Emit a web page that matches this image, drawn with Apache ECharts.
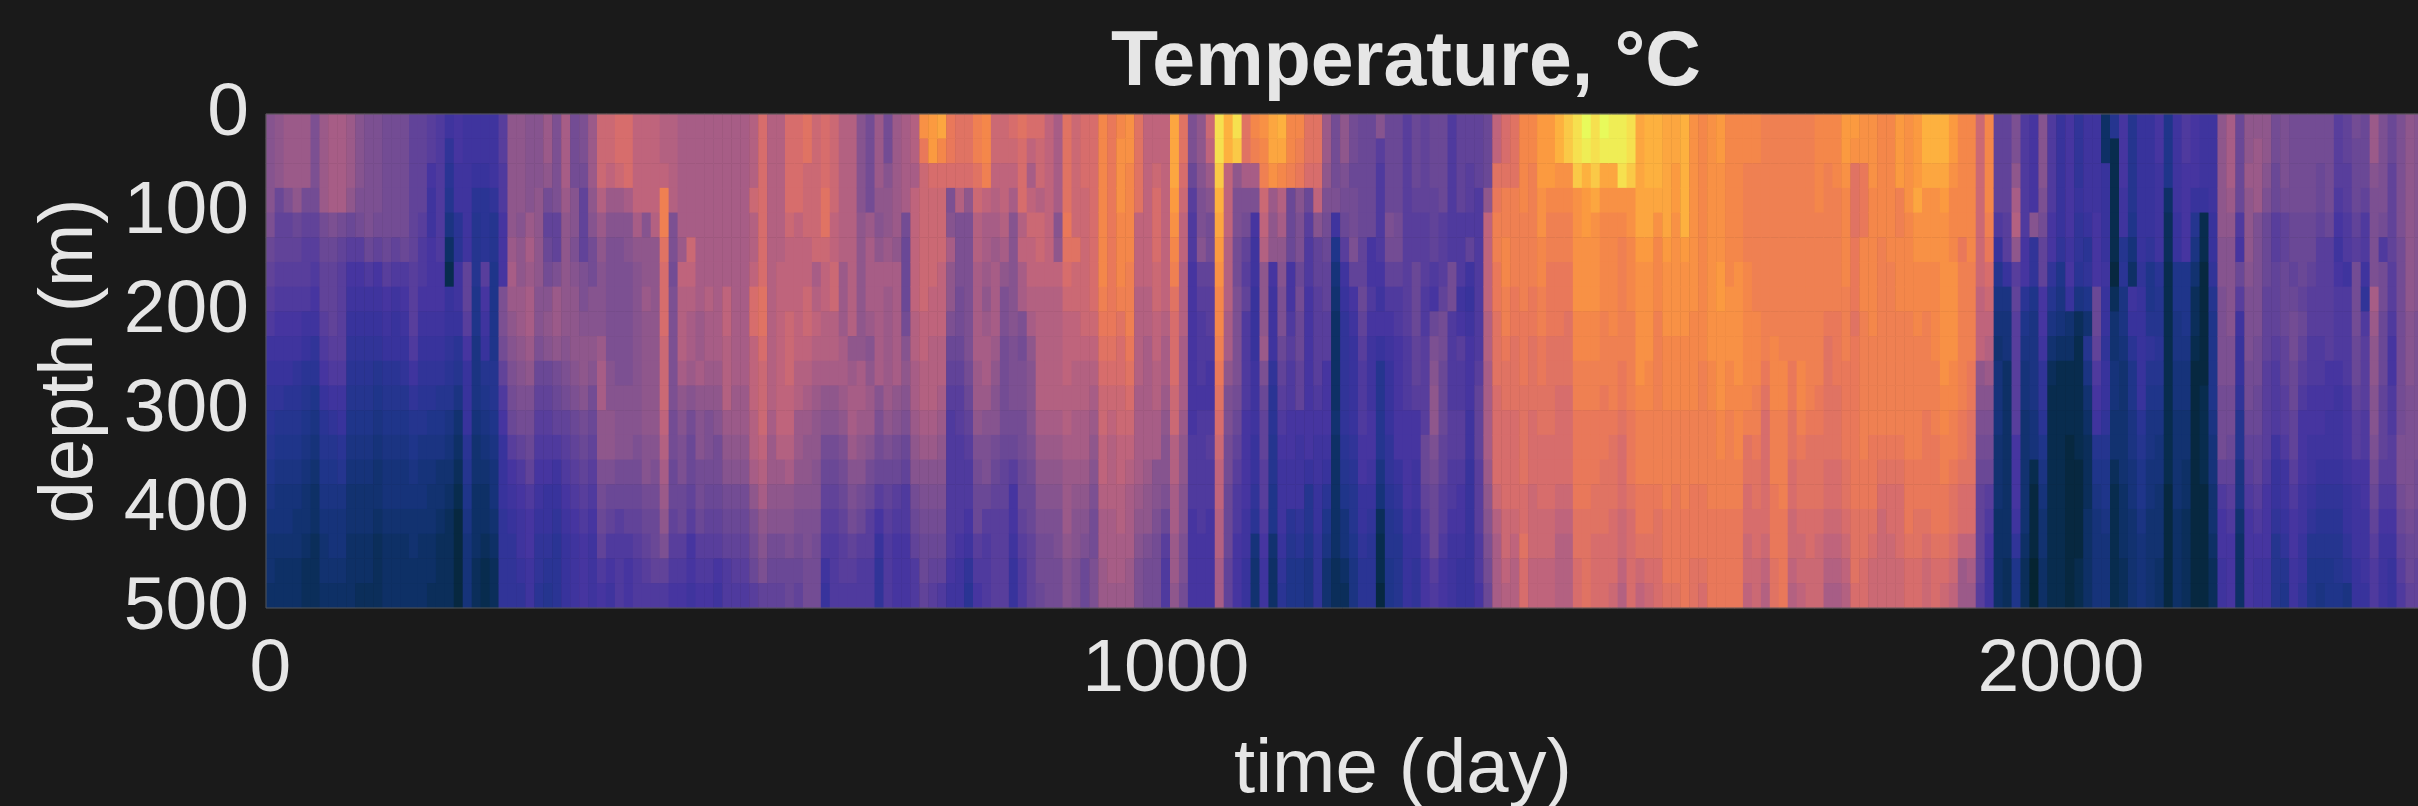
<!DOCTYPE html>
<html>
<head>
<meta charset="utf-8">
<title>Temperature</title>
<script src="https://cdn.jsdelivr.net/npm/echarts@6/dist/echarts.min.js"></script>
<style>
html, body { margin: 0; padding: 0; background: #1a1a1a; overflow: hidden; }
#chart { width: 2418px; height: 806px; }
</style>
</head>
<body>
<div id="chart"></div>
<script>
// columns every 10 days, rows every 25 m. no colourbar in the picture,
// so values are read on the colour scale (0 darkest .. 40 yellow)
var days = [];
for (var d = 0; d <= 2530; d += 10) days.push(d);
var depths = [0, 25, 50, 75, 100, 125, 150, 175, 200, 225, 250, 275, 300, 325, 350, 375, 400, 425, 450, 475];
var colourStops = ['#052431', '#082c4e', '#0e3066', '#16337a', '#1f358a', '#2a3494', '#38339c', '#4635a0', '#583e9c', '#6a4896', '#7c5092',
    '#8f578c', '#a75d86', '#bf647c', '#d76d6c', '#e9785a', '#f4874a', '#fb9a40', '#fdb13f', '#f6e04f', '#e8fa5b'];

var temperature = [
// day 0
[21,21,21,21,20,18,17,16,15,13,12,11,10,9,8,7,6,5,5,4],
[22,22,22,18,17,17,16,15,14,13,12,11,9,8,7,6,6,5,4,4],
[23,23,23,20,17,17,16,15,14,13,12,10,9,8,7,6,6,5,4,4],
[23,23,23,22,18,17,16,15,14,13,11,10,9,8,7,6,5,5,4,4],
[23,23,23,19,17,16,16,15,13,12,10,9,8,7,6,5,5,4,3,3],
[20,20,20,19,17,16,15,14,13,11,10,8,7,6,5,4,4,3,3,3],
[23,23,23,23,19,18,17,17,16,15,14,12,10,9,8,7,6,5,5,4],
[24,24,24,24,20,18,17,17,17,16,15,13,11,9,8,7,6,6,5,4],
[24,24,24,24,19,17,16,16,16,16,15,13,12,10,9,7,6,6,5,4],
[23,23,23,22,18,16,14,13,12,11,10,9,8,7,6,5,5,4,4,4],
[21,21,21,20,19,16,14,13,12,11,10,9,8,7,6,5,5,4,4,3],
[20,20,20,20,20,18,15,13,12,11,10,9,8,7,6,5,5,4,4,3],
[20,20,20,20,19,17,14,13,12,11,9,8,7,6,5,5,4,3,3,3],
[19,19,19,19,19,18,16,14,13,12,10,9,8,7,6,6,5,4,4,4],
[19,19,19,19,19,17,15,13,12,12,10,9,8,7,6,6,5,4,4,4],
[19,19,19,19,19,18,15,14,13,12,11,9,8,7,6,6,5,4,4,4],
[17,17,17,17,17,17,16,16,16,15,13,11,9,8,7,6,5,5,4,4],
[17,17,17,17,16,15,15,14,13,12,11,10,9,7,6,6,5,4,4,4],
[16,16,14,13,13,14,14,14,13,12,11,10,8,7,6,5,5,4,4,3],
[15,15,15,15,15,15,14,14,13,12,11,9,8,7,5,5,4,3,3,3],
[13,11,10,9,7,4,2,12,12,11,10,9,7,6,5,4,3,3,3,3],
[14,14,13,13,10,10,13,13,12,10,9,7,5,4,3,2,1,1,1,1],
[13,13,13,13,13,13,17,17,16,14,12,12,12,10,9,8,7,6,6,6],
[13,13,12,10,9,9,9,8,8,7,7,7,6,5,5,4,4,4,3,3],
[13,13,12,10,10,10,16,14,13,12,9,8,7,6,5,4,4,3,2,2],
[13,13,13,11,9,9,8,8,8,8,9,9,8,7,6,6,5,4,3,3],
[16,16,15,15,14,14,14,20,20,19,17,15,14,12,12,12,11,11,11,11],
[22,22,22,22,22,23,24,23,22,21,20,19,18,16,14,13,12,11,11,11],
[22,22,22,22,21,22,22,23,23,22,21,20,19,17,15,14,13,13,12,11],
[21,21,21,21,23,24,23,24,24,23,22,20,19,18,17,15,14,14,13,13],
// day 300
[21,21,21,22,22,22,22,21,21,20,18,17,16,15,14,13,12,11,11,10],
[23,23,22,19,17,18,19,21,22,21,18,17,16,15,14,12,12,11,10,9],
[20,20,20,20,17,17,20,23,23,22,19,18,17,15,13,12,11,10,10,10],
[24,24,24,23,22,22,22,22,22,21,20,19,17,16,15,14,13,12,12,12],
[19,19,19,21,21,20,21,22,22,22,21,20,18,17,16,15,14,13,13,13],
[20,20,19,17,17,17,20,20,21,22,22,21,19,18,17,16,15,14,14,14],
[23,23,23,22,21,19,19,21,21,22,21,19,18,17,16,15,14,13,13,13],
[27,27,27,25,23,22,21,21,21,23,24,24,22,22,20,19,18,17,15,14],
[27,27,26,23,21,20,20,20,20,20,21,21,22,22,20,18,17,15,14,13],
[28,28,27,23,21,20,20,20,20,20,20,21,21,21,19,18,16,15,15,15],
[28,28,28,24,21,21,20,20,20,20,20,21,21,21,19,18,17,15,14,14],
[26,26,26,26,24,22,21,21,21,21,21,21,21,20,19,18,17,16,15,15],
[26,26,26,26,21,22,22,23,22,22,22,22,22,21,21,19,18,17,16,15],
[26,26,26,26,25,22,22,22,22,22,22,22,22,21,20,19,18,18,17,15],
[25,25,26,31,31,29,28,28,28,27,27,27,26,25,24,23,22,20,17,15],
[25,25,25,25,20,20,19,20,20,20,20,20,19,19,18,18,17,16,15,14],
[24,24,24,24,24,23,26,25,25,25,24,22,21,20,20,18,18,16,15,14],
[24,24,24,24,24,27,26,25,24,24,23,21,19,18,18,17,16,14,14,13],
[24,24,24,24,24,24,24,24,23,23,24,22,21,21,19,19,18,16,15,14],
[24,24,24,24,24,24,24,25,24,24,23,22,20,20,19,18,17,16,15,14],
[24,24,24,24,24,24,24,24,24,24,23,22,21,19,19,18,17,16,14,13],
[24,24,24,24,24,24,24,26,26,25,25,25,23,22,21,19,18,17,15,15],
[24,24,24,24,24,24,24,24,24,24,24,23,23,22,21,19,18,17,16,15],
[24,24,24,24,24,24,24,24,24,24,24,23,23,22,21,19,18,17,16,15],
[25,25,25,27,25,25,26,28,28,26,26,26,25,25,24,22,20,19,18,16],
[28,28,28,28,28,28,28,29,29,28,27,27,27,26,25,24,22,21,20,17],
[25,25,25,25,25,25,25,25,25,25,25,25,24,23,23,22,21,19,18,17],
[25,25,25,25,25,25,26,26,26,26,26,26,26,25,23,22,21,19,18,17],
[28,28,28,28,27,26,26,26,27,27,27,26,26,25,24,22,21,20,18,18],
[28,28,28,28,26,26,26,26,26,26,25,25,23,23,22,21,20,19,18,17],
// day 600
[29,29,27,27,27,26,26,27,27,26,25,24,23,22,22,21,20,20,19,19],
[27,27,27,27,27,27,24,25,26,25,24,23,22,22,21,21,20,19,19,19],
[28,28,28,29,29,27,26,26,25,25,24,22,21,19,18,17,16,15,13,12],
[27,27,27,27,26,26,27,27,25,25,24,22,21,19,18,17,16,15,15,15],
[25,25,25,25,25,25,23,23,23,24,24,23,22,20,19,18,17,16,16,15],
[25,25,25,25,25,25,25,25,25,22,23,24,24,23,21,20,19,17,16,15],
[21,21,21,21,22,22,22,22,22,22,24,24,23,22,21,19,18,16,15,15],
[19,19,19,19,23,24,24,24,23,21,22,23,23,21,19,18,16,16,15,15],
[23,23,23,22,21,22,24,24,24,24,24,21,20,19,18,16,14,12,11,11],
[19,19,21,22,22,23,24,23,23,23,23,23,22,20,18,17,16,15,15,15],
[23,23,23,23,23,22,24,24,24,24,24,22,21,19,18,16,15,14,14,14],
[24,24,24,24,19,18,18,18,19,21,22,21,20,18,17,15,15,14,14,14],
[25,25,24,26,26,26,26,26,25,25,24,24,23,22,21,19,18,17,15,15],
[33,30,27,27,27,27,27,27,26,26,25,25,24,23,21,20,19,18,18,17],
[34,34,28,27,27,27,27,26,26,25,25,25,24,23,21,20,19,18,17,16],
[35,32,28,27,27,27,26,26,26,25,25,24,23,22,21,20,19,18,17,15],
[30,30,28,20,21,24,22,22,20,18,17,16,15,15,15,15,15,15,14,13],
[29,29,28,25,20,20,20,19,19,18,17,16,16,15,15,15,15,14,13,13],
[29,29,28,22,20,20,20,20,20,20,19,18,17,16,15,15,14,13,11,10],
[31,31,29,27,25,25,24,24,24,24,23,23,22,20,19,18,18,16,15,14],
[32,32,31,26,24,24,23,22,23,24,24,23,21,20,20,18,16,15,15,15],
[27,27,26,25,24,23,24,24,24,23,22,21,21,19,18,17,16,16,16,16],
[27,27,26,26,25,24,22,20,20,19,19,19,19,18,17,17,16,16,16,16],
[28,27,26,24,21,21,21,21,21,20,20,20,19,18,16,14,14,13,12,12],
[29,28,28,28,25,26,24,24,20,19,20,20,19,19,18,18,17,16,15,15],
[28,26,24,26,27,26,26,25,24,22,21,21,21,20,19,18,18,17,17,17],
[28,27,27,25,27,27,26,25,25,25,25,25,24,23,22,21,20,19,19,18],
[26,26,26,26,26,26,26,25,25,25,25,25,24,23,22,21,20,19,19,19],
[24,24,24,24,21,22,26,25,25,25,25,25,24,23,22,21,20,20,19,19],
[29,29,29,29,30,29,28,27,26,26,26,25,25,24,23,23,23,22,21,21],
// day 900
[27,27,27,27,27,29,27,27,26,26,25,25,24,24,23,22,21,21,20,20],
[28,28,28,27,27,27,27,27,27,26,25,25,24,24,23,22,21,20,18,18],
[28,28,28,28,28,28,28,28,27,26,25,24,23,22,21,20,19,19,20,20],
[32,32,32,32,32,32,32,31,30,29,28,27,27,26,26,25,24,24,23,23],
[30,30,30,30,30,30,30,30,30,29,28,27,26,25,25,25,24,24,24,23],
[32,33,33,33,32,32,32,31,29,28,28,27,27,26,26,25,25,24,24,23],
[33,33,32,32,32,32,31,31,31,30,29,28,27,26,25,24,24,24,23,23],
[29,29,29,29,26,26,26,25,25,25,25,24,24,24,24,23,22,21,20,20],
[26,26,26,26,26,26,26,25,25,24,24,24,24,24,23,22,22,20,19,19],
[26,26,27,28,28,28,27,27,26,26,25,25,24,24,21,21,20,19,19,19],
[26,26,26,26,26,26,26,26,25,24,24,23,22,21,21,20,18,16,15,15],
[35,35,35,34,33,32,31,29,28,28,28,27,27,25,25,24,24,23,23,22],
[29,29,28,27,26,26,25,25,25,24,24,24,23,22,22,21,21,20,20,19],
[20,20,18,16,15,15,14,14,14,14,14,14,14,15,15,15,14,14,14,14],
[22,22,21,20,20,21,17,16,15,15,15,14,15,15,15,15,15,14,14,14],
[27,26,23,21,19,19,17,16,16,15,14,14,15,16,15,15,14,14,14,14],
[38,38,37,36,35,34,33,32,32,31,30,29,28,27,26,26,25,25,24,24],
[36,36,26,26,26,25,25,25,24,24,22,20,20,19,19,18,18,18,17,17],
[38,37,22,20,20,19,19,20,20,20,20,19,18,17,16,15,15,14,14,14],
[29,29,24,20,19,17,16,17,15,15,15,15,14,14,14,14,13,13,12,12],
[32,31,24,20,14,13,13,12,12,12,13,13,13,12,12,11,10,6,5,5],
[33,32,31,27,26,25,22,22,22,23,20,18,17,17,16,16,15,14,13,13],
[35,35,33,23,22,22,14,13,13,13,11,10,10,9,9,8,8,5,4,4],
[36,35,32,25,24,22,21,20,20,18,17,16,15,14,13,13,13,12,11,10],
[32,32,31,18,18,18,14,14,15,16,15,15,14,14,13,13,10,9,8,8],
[32,31,30,21,20,20,18,19,18,18,17,17,14,13,13,13,11,10,8,8],
[29,29,28,18,16,15,15,14,14,14,14,14,14,14,12,9,9,8,7,7],
[29,29,28,26,21,17,17,16,16,16,16,15,14,13,13,12,12,11,11,11],
[23,23,22,20,19,18,17,17,16,16,14,14,14,13,12,10,8,7,5,5],
[19,19,19,20,13,8,6,5,4,4,4,4,5,4,4,4,4,4,3,3],
// day 1200
[22,22,20,19,18,16,13,12,11,11,11,11,11,10,9,8,6,6,4,3],
[19,19,18,19,19,20,17,14,13,12,12,12,12,11,10,9,9,8,7,7],
[18,18,18,18,18,17,17,18,17,16,15,15,15,14,14,12,12,11,10,10],
[18,18,18,18,18,14,14,15,14,13,13,13,14,14,13,12,11,10,10,10],
[21,16,15,15,15,15,14,13,14,12,9,9,9,9,7,6,3,2,2,1],
[18,18,18,18,20,19,17,15,14,13,12,12,12,11,11,10,9,9,8,8],
[18,18,18,18,19,19,17,15,15,14,14,14,14,14,12,11,10,9,9,9],
[16,16,16,16,16,16,16,16,16,15,15,15,14,14,14,14,13,12,12,12],
[18,18,18,17,16,16,18,18,18,17,17,16,14,14,13,13,12,12,11,11],
[17,17,17,17,16,16,16,15,15,16,16,16,16,18,18,17,16,15,14,14],
[18,18,18,17,17,17,15,14,18,20,21,22,22,20,19,18,18,18,16,15],
[18,18,18,18,16,16,16,17,19,19,18,18,18,17,17,16,16,15,14,14],
[15,15,15,15,15,15,19,19,15,15,15,15,16,16,15,15,14,13,13,13],
[17,17,17,17,15,15,15,13,14,16,15,15,16,16,15,14,14,13,12,12],
[17,17,16,16,15,17,13,12,13,14,14,14,13,13,12,12,12,12,12,12],
[17,17,17,15,15,15,15,15,15,15,16,17,17,17,16,16,16,15,15,14],
[18,18,18,22,26,26,26,26,25,25,24,24,24,24,23,22,21,20,19,18],
[26,26,29,30,31,31,30,30,29,29,29,28,28,28,28,27,25,24,24,24],
[28,28,29,31,31,32,32,31,31,30,29,29,28,28,28,28,27,27,26,25],
[29,29,29,31,31,31,31,30,30,29,29,29,28,28,28,28,27,26,25,25],
[32,32,32,32,31,31,31,31,30,30,30,29,29,29,29,28,28,29,28,28],
[32,32,31,31,31,31,31,30,30,29,29,29,28,28,28,27,27,27,26,26],
[34,34,34,33,33,32,32,31,31,30,30,29,29,28,28,28,27,27,26,26],
[34,34,34,32,31,31,30,30,30,29,29,29,29,28,28,28,27,27,26,26],
[36,36,33,32,31,31,30,30,30,29,29,28,28,28,28,27,26,25,25,25],
[37,37,33,32,31,31,30,30,29,29,29,28,28,28,28,27,26,25,25,25],
[38,38,37,33,33,33,33,33,32,32,31,31,30,30,30,30,29,29,28,28],
[40,39,36,34,34,33,33,33,32,32,31,31,30,30,30,30,29,29,29,29],
[38,38,37,35,33,33,33,33,32,32,31,31,30,30,30,29,29,28,28,28],
[40,39,35,33,32,32,32,32,31,31,31,30,30,30,29,29,29,28,28,28],
// day 1500
[39,39,35,33,32,32,32,32,32,31,31,31,30,29,29,29,28,28,28,27],
[39,39,38,33,32,31,31,31,31,31,30,30,29,28,28,28,27,27,26,25],
[38,38,37,33,33,32,32,32,31,31,31,31,30,30,30,29,28,28,28,28],
[35,35,35,35,35,34,33,33,33,33,33,32,31,31,31,30,30,29,27,26],
[36,36,36,35,35,34,33,33,33,33,32,32,31,31,31,30,30,29,28,27],
[36,36,36,35,33,32,32,32,31,31,31,31,31,31,31,30,29,29,28,28],
[35,35,35,35,35,34,33,33,33,32,32,32,31,31,31,31,30,30,30,29],
[35,35,34,34,33,33,33,33,33,32,32,32,31,31,31,30,30,30,30,29],
[36,36,36,36,36,34,33,33,33,32,32,32,31,31,31,31,30,30,30,30],
[33,33,33,33,33,33,33,33,32,32,32,32,31,31,31,30,30,30,29,29],
[32,32,32,32,32,32,32,32,32,32,31,31,31,31,31,30,30,30,29,28],
[33,33,33,33,33,33,33,33,33,33,32,32,31,31,31,31,30,30,30,30],
[34,34,33,33,33,33,34,34,33,33,33,33,32,32,31,31,30,30,30,30],
[32,32,32,32,32,32,32,33,33,33,32,32,31,31,31,31,30,30,30,30],
[32,32,32,32,32,32,33,33,33,33,33,32,32,32,31,31,30,30,30,30],
[32,32,31,31,31,31,32,32,32,32,32,32,31,29,29,28,28,27,27,26],
[32,32,31,31,31,31,31,31,32,32,32,31,31,30,29,29,28,28,27,27],
[31,31,31,31,31,31,31,31,31,31,30,29,28,28,28,28,28,27,26,25],
[31,31,31,31,31,31,31,31,31,32,32,32,31,31,31,30,30,30,29,29],
[31,31,31,31,31,31,31,31,31,31,32,32,31,31,31,31,30,30,30,30],
[31,31,31,31,31,31,31,31,31,31,30,30,29,29,28,28,27,27,26,25],
[31,31,31,31,31,31,31,31,31,31,32,32,31,30,29,29,28,27,27,26],
[31,31,31,31,31,31,31,31,31,31,31,31,30,29,29,29,28,28,27,27],
[32,32,32,32,31,31,31,31,31,31,31,30,30,29,29,29,28,27,27,27],
[32,32,31,31,31,31,31,31,30,29,29,29,29,29,28,28,27,26,25,24],
[32,32,32,31,31,31,31,31,30,30,30,29,29,29,28,28,27,26,25,24],
[34,34,33,32,32,32,32,31,31,31,30,30,30,30,29,29,28,27,26,25],
[34,33,29,29,29,30,30,30,29,30,30,30,30,30,30,30,29,29,29,28],
[33,33,30,30,30,32,32,32,31,31,31,31,31,31,30,30,29,29,28,28],
[33,33,33,32,32,32,32,32,32,31,31,31,31,30,30,30,29,28,27,27],
// day 1800
[32,32,32,32,32,31,31,31,31,31,31,31,31,30,29,28,27,27,27,27],
[32,32,32,32,32,32,31,31,31,31,31,31,31,30,29,28,28,27,27,27],
[34,34,34,31,31,32,32,32,31,31,31,31,31,30,29,28,28,28,27,27],
[33,33,33,33,32,32,32,32,31,31,31,31,31,31,30,30,30,29,28,28],
[34,34,34,35,33,33,32,32,32,31,31,31,31,31,30,30,29,29,28,28],
[36,36,35,33,33,33,32,32,31,31,31,31,30,30,30,30,29,28,27,27],
[36,36,35,33,33,33,32,32,32,32,31,31,31,30,30,30,30,29,28,28],
[36,36,35,34,33,33,33,33,33,33,33,32,32,31,31,30,30,29,28,27],
[34,34,33,32,32,32,33,33,33,33,32,32,31,31,30,29,29,28,27,26],
[32,32,32,32,32,30,31,31,31,31,31,31,30,30,29,28,28,26,23,23],
[32,32,32,32,32,32,31,31,31,31,30,30,29,29,29,28,28,26,24,23],
[27,27,27,27,27,27,27,26,26,26,22,21,20,19,18,17,17,17,17,16],
[32,32,32,32,31,30,28,27,26,25,23,21,20,19,18,16,15,14,13,13],
[17,17,17,17,15,12,9,7,6,5,6,6,6,5,5,5,4,4,4,4],
[17,17,17,17,16,16,12,7,6,6,4,4,4,4,4,4,4,4,3,3],
[20,20,22,24,25,22,16,17,16,16,16,16,16,14,14,14,13,11,8,8],
[15,15,15,15,15,14,14,10,8,7,6,6,5,5,5,5,5,4,3,3],
[14,14,14,14,21,11,11,8,7,7,7,7,6,6,2,1,1,1,0,0],
[21,21,21,20,19,17,17,14,14,13,11,11,10,8,7,6,5,5,4,4],
[15,15,15,15,14,14,11,9,7,5,3,2,2,2,2,2,2,2,2,2],
[12,12,12,12,12,11,8,7,6,4,2,2,2,2,2,2,2,2,2,2],
[14,14,14,14,14,13,14,12,5,4,2,2,2,1,1,1,1,1,1,1],
[11,11,11,12,11,11,10,7,3,2,2,2,2,2,1,1,1,1,2,2],
[13,13,13,13,12,10,11,8,5,9,7,5,4,3,3,3,4,4,4,4],
[13,13,13,13,14,14,14,18,18,17,15,14,13,9,8,7,6,6,6,6],
[4,4,12,12,12,12,13,12,12,11,12,12,11,9,8,8,7,6,6,6],
[9,2,2,2,2,2,1,3,5,5,6,6,5,5,3,2,2,2,2,2],
[14,14,14,13,13,9,10,7,7,6,5,5,5,5,5,4,4,4,3,3],
[9,9,9,9,8,6,4,13,12,10,8,8,7,7,6,6,5,5,5,5],
[12,12,12,12,12,12,11,12,12,12,12,12,10,9,8,8,7,6,6,6],
// day 2100
[12,12,12,12,12,11,8,8,9,11,9,8,7,7,6,6,5,5,5,5],
[14,14,13,13,13,13,10,9,9,10,9,8,7,6,6,5,5,5,4,4],
[8,8,8,4,3,3,2,2,2,2,2,2,2,2,2,1,1,1,1,1],
[13,13,13,13,12,12,8,8,7,7,6,6,5,5,5,5,4,4,4,4],
[15,15,14,14,14,14,8,8,8,7,6,6,5,5,4,4,3,3,3,3],
[14,14,14,12,9,7,5,3,3,2,1,1,1,1,1,1,1,1,1,1],
[13,13,13,12,2,2,1,1,1,1,1,2,2,2,2,1,1,1,1,1],
[13,13,13,13,12,12,11,9,8,8,8,8,7,6,6,5,5,4,3,3],
[22,22,22,22,22,21,21,20,20,20,20,19,19,19,17,15,14,14,13,13],
[24,24,24,23,22,21,21,21,21,20,20,19,19,18,17,16,15,14,14,14],
[18,18,18,18,15,14,18,16,13,12,12,11,9,9,7,7,5,4,4,4],
[22,22,23,22,22,22,21,20,20,20,19,19,18,17,16,15,14,14,14,14],
[22,23,23,23,20,20,20,20,20,19,19,18,18,17,17,16,15,14,13,13],
[22,22,21,20,18,18,18,17,17,17,16,16,16,16,15,14,14,14,13,13],
[19,19,18,18,16,16,17,17,17,16,15,15,15,13,12,12,11,9,9,9],
[20,20,20,19,17,17,18,18,18,17,17,16,16,15,13,13,12,11,9,8],
[19,19,19,19,18,18,17,18,19,19,18,18,17,17,16,15,14,14,13,13],
[19,19,19,19,18,18,18,17,18,17,16,15,14,14,14,13,13,12,12,11],
[19,19,19,19,18,18,17,16,16,15,15,14,14,13,13,12,11,9,8,8],
[19,19,18,18,17,16,16,16,16,15,15,14,14,13,12,11,10,9,8,7],
[19,19,19,19,18,16,16,16,16,16,14,14,13,13,12,11,10,9,8,8],
[16,16,16,15,14,13,14,15,15,15,14,13,13,13,12,11,10,9,9,8],
[17,17,16,16,15,15,13,15,15,15,15,14,14,14,13,12,12,11,10,7],
[19,18,18,18,17,16,19,19,19,18,18,17,16,16,14,13,13,13,12,12],
[18,18,18,17,15,15,13,11,15,16,16,16,15,15,14,14,13,13,13,12],
[23,23,21,20,20,20,20,24,23,22,22,21,21,20,19,18,17,16,15,15],
[20,20,20,20,19,15,19,19,18,18,18,17,17,17,16,15,14,13,13,13],
[18,18,17,17,17,17,16,16,15,14,14,15,15,16,16,15,14,13,12,12],
[20,20,20,20,20,19,19,19,19,19,19,19,19,20,20,19,18,17,16,15],
[22,22,22,22,22,22,22,22,21,21,21,20,20,20,20,20,19,18,18,17],
// day 2400
[21,21,21,21,21,21,21,21,20,20,20,20,20,20,19,19,18,18,17,17]
];

var heatData = [];
for (var i = 0; i < temperature.length; i++) {
    for (var j = 0; j < depths.length; j++) {
        heatData.push([i, j, temperature[i][j]]);
    }
}

var textColor = '#e6e6e6';
var fontName = '"Liberation Sans", Helvetica, Arial, sans-serif';

var myChart = echarts.init(document.getElementById('chart'));

var option = {
    backgroundColor: '#1a1a1a',
    animation: false,
    title: {
        text: 'Temperature, °C',
        left: 1401,
        top: 20,
        textAlign: 'center',
        textStyle: {
            color: textColor,
            fontFamily: fontName,
            fontWeight: 'bold',
            fontSize: 77
        }
    },
    // the plot runs on past the right edge of the picture
    grid: {
        left: 266,
        top: 114,
        width: 2274,
        height: 494,
        outerBoundsMode: 'none',
        show: true,
        borderColor: '#555',
        borderWidth: 1,
        z: 5
    },
    xAxis: {
        type: 'category',
        data: days,
        name: 'time (day)',
        nameLocation: 'middle',
        nameGap: 125,
        nameTextStyle: { color: textColor, fontFamily: fontName, fontSize: 76 },
        axisLine: { show: false },
        axisTick: { show: false },
        splitLine: { show: false },
        axisLabel: {
            color: textColor,
            fontFamily: fontName,
            fontSize: 75,
            margin: 25,
            interval: function (index, value) {
                return Number(value) % 1000 === 0;
            }
        }
    },
    yAxis: [
        {
            type: 'category',
            data: depths,
            inverse: true,
            show: false
        },
        { // ticks sit on the cell edges, so the labels get their own axis
            type: 'value',
            position: 'left',
            inverse: true,
            min: 0,
            max: 500,
            interval: 100,
            name: 'depth (m)',
            nameLocation: 'middle',
            nameGap: 157,
            nameTextStyle: { color: textColor, fontFamily: fontName, fontSize: 76 },
            axisLine: { show: false },
            axisTick: { show: false },
            splitLine: { show: false },
            axisLabel: {
                color: textColor,
                fontFamily: fontName,
                fontSize: 75,
                margin: 17,
                padding: [8, 0, 0, 0]
            }
        }
    ],
    visualMap: {
        show: false,
        min: 0,
        max: 40,
        seriesIndex: 0,
        inRange: { color: colourStops }
    },
    series: [{
        type: 'heatmap',
        xAxisIndex: 0,
        yAxisIndex: 0,
        data: heatData,
        progressive: 0,
        itemStyle: { borderWidth: 0 },
        emphasis: { disabled: true }
    }]
};
myChart.setOption(option);
</script>
</body>
</html>
